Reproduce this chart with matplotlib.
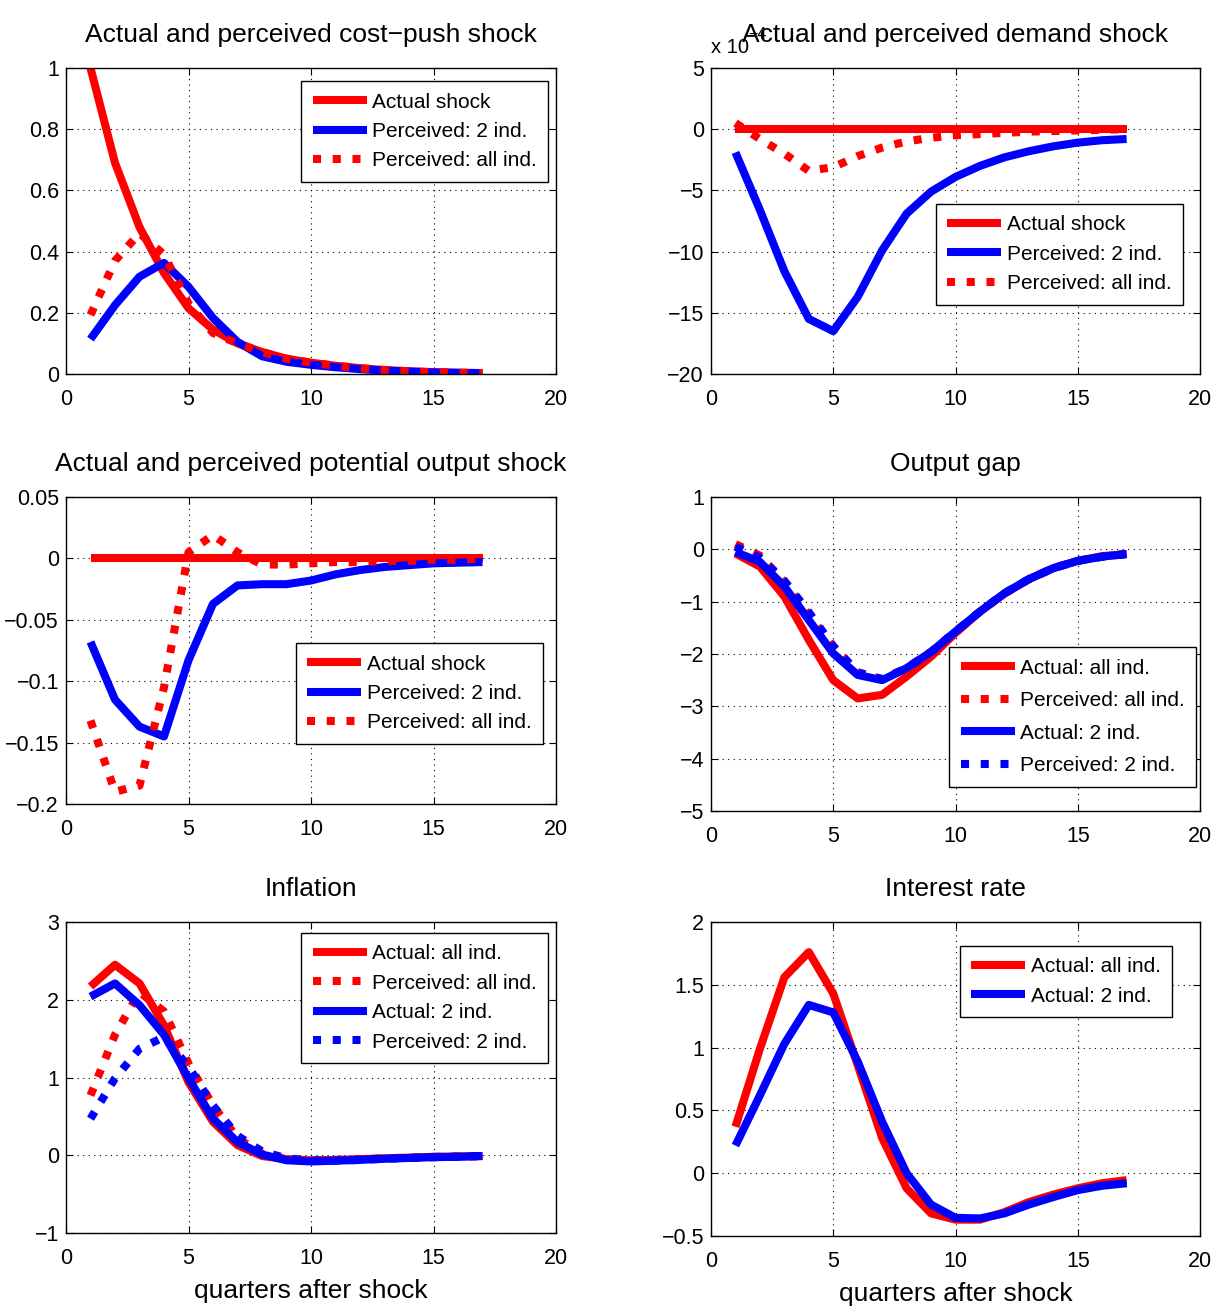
import matplotlib
matplotlib.use('Agg')
import matplotlib.pyplot as plt
import numpy as np

plt.rcParams['font.family'] = ['Liberation Sans Narrow', 'Liberation Sans', 'DejaVu Sans']
plt.rcParams['lines.solid_capstyle'] = 'butt'

t = np.arange(1, 18)

# cost-push shock
cp_actual = [1.0, 0.69, 0.48, 0.33, 0.215, 0.145, 0.10, 0.072, 0.05, 0.037, 0.027, 0.019, 0.013, 0.009, 0.006, 0.004, 0.003]
cp_perc2 = [0.114, 0.225, 0.318, 0.363, 0.285, 0.183, 0.105, 0.058, 0.04, 0.03, 0.022, 0.016, 0.011, 0.008, 0.005, 0.004, 0.003]
cp_percall = [0.193, 0.37, 0.46, 0.39, 0.23, 0.134, 0.10, 0.072, 0.05, 0.037, 0.027, 0.019, 0.013, 0.009, 0.006, 0.004, 0.003]

# demand shock (x 1e-4)
dm_actual = [0.0] * 17
dm_perc2 = [-1.9, -6.6, -11.6, -15.5, -16.5, -13.7, -9.9, -6.9, -5.1, -3.9, -3.0, -2.3, -1.8, -1.4, -1.1, -0.9, -0.8]
dm_percall = [0.5, -0.8, -2.0, -3.4, -3.1, -2.2, -1.5, -1.0, -0.7, -0.5, -0.4, -0.3, -0.2, -0.15, -0.1, -0.05, 0.0]

# potential output shock
po_actual = [0.0] * 17
po_perc2 = [-0.068, -0.115, -0.137, -0.145, -0.083, -0.037, -0.022, -0.021, -0.021, -0.018, -0.013, -0.0095, -0.007, -0.0055, -0.004, -0.0035, -0.003]
po_percall = [-0.132, -0.19, -0.185, -0.105, 0.005, 0.019, 0.005, -0.005, -0.005, -0.004, -0.003, -0.003, -0.002, -0.002, -0.001, -0.001, 0.0]

# output gap
og_act_all = [-0.08, -0.33, -0.9, -1.73, -2.5, -2.85, -2.78, -2.43, -2.05, -1.6, -1.19, -0.85, -0.57, -0.36, -0.22, -0.13, -0.09]
og_perc_all = [0.1, -0.12, -0.62, -1.25, -1.85, -2.35, -2.48, -2.27, -1.96, -1.57, -1.19, -0.84, -0.57, -0.36, -0.22, -0.14, -0.09]
og_act_2 = [-0.05, -0.24, -0.71, -1.35, -1.99, -2.4, -2.5, -2.27, -1.96, -1.57, -1.19, -0.84, -0.57, -0.36, -0.22, -0.14, -0.09]
og_perc_2 = [0.05, -0.16, -0.6, -1.2, -1.85, -2.35, -2.48, -2.27, -1.96, -1.57, -1.19, -0.84, -0.57, -0.36, -0.22, -0.14, -0.09]

# inflation
in_act_all = [2.17, 2.45, 2.21, 1.67, 0.94, 0.43, 0.13, -0.01, -0.05, -0.065, -0.06, -0.05, -0.04, -0.03, -0.02, -0.015, -0.01]
in_perc_all = [0.77, 1.55, 2.1, 1.85, 1.18, 0.64, 0.22, 0.02, -0.05, -0.065, -0.06, -0.05, -0.04, -0.03, -0.02, -0.015, -0.01]
in_act_2 = [2.04, 2.21, 1.93, 1.55, 0.99, 0.47, 0.17, 0.01, -0.065, -0.08, -0.07, -0.06, -0.045, -0.035, -0.025, -0.02, -0.01]
in_perc_2 = [0.47, 0.99, 1.37, 1.52, 1.14, 0.64, 0.25, 0.05, -0.04, -0.07, -0.07, -0.06, -0.045, -0.035, -0.025, -0.02, -0.01]

# interest rate
ir_act_all = [0.37, 0.99, 1.56, 1.76, 1.43, 0.86, 0.28, -0.12, -0.32, -0.37, -0.37, -0.31, -0.23, -0.17, -0.12, -0.08, -0.055]
ir_act_2 = [0.22, 0.62, 1.03, 1.34, 1.28, 0.89, 0.41, 0.0, -0.25, -0.355, -0.36, -0.32, -0.25, -0.19, -0.135, -0.10, -0.08]

LW = 5.8
DOT = (0, (1.0, 1.45))
TFS = 19
KFS = 15.5
LFS = 15

fig = plt.figure(figsize=(12.14, 13.11), dpi=100)

def make_ax(px_left, px_top, px_right, px_bottom):
    W, H = 1214.0, 1311.0
    ax = fig.add_axes([px_left / W, 1 - px_bottom / H, (px_right - px_left) / W, (px_bottom - px_top) / H])
    ax.grid(True, linestyle=(0, (1, 4)), color='black', linewidth=0.8)
    ax.tick_params(direction='in', top=True, right=True, labelsize=KFS, length=5)
    ax.tick_params(axis='x', pad=11)
    ax.tick_params(axis='y', pad=5)
    ax.set_xlim(0, 20)
    ax.set_xticks([0, 5, 10, 15, 20])
    for s in ax.spines.values():
        s.set_linewidth(1.0)
    return ax

def leg(ax, x, y, spacing=0.5):
    l = ax.legend(loc='upper right', bbox_to_anchor=(x, y), fontsize=LFS, fancybox=False,
                  edgecolor='black', framealpha=1, handlelength=2.6, handletextpad=0.25,
                  labelspacing=spacing, borderpad=0.55, borderaxespad=0)
    l.get_frame().set_linewidth(1.0)

# top-left
ax = make_ax(66, 68, 556, 374)
ax.plot(t, cp_actual, color='red', lw=LW, label='Actual shock')
ax.plot(t, cp_perc2, color='blue', lw=LW, label='Perceived: 2 ind.')
ax.plot(t, cp_percall, color='red', lw=LW, ls=DOT, label='Perceived: all ind.')
ax.set_ylim(0, 1)
ax.set_yticks([0, 0.2, 0.4, 0.6, 0.8, 1])
ax.set_yticklabels(['0', '0.2', '0.4', '0.6', '0.8', '1'])
ax.set_title('Actual and perceived cost\u2212push shock', fontsize=TFS, pad=19)
leg(ax, 0.984, 0.957)

# top-right
ax = make_ax(711, 68, 1200, 374)
ax.plot(t, dm_actual, color='red', lw=LW, label='Actual shock')
ax.plot(t, dm_perc2, color='blue', lw=LW, label='Perceived: 2 ind.')
ax.plot(t, dm_percall, color='red', lw=LW, ls=DOT, label='Perceived: all ind.')
ax.set_ylim(-20, 5)
ax.set_yticks([-20, -15, -10, -5, 0, 5])
ax.set_title('Actual and perceived demand shock', fontsize=TFS, pad=19)
ax.text(0.0, 1.035, 'x 10', transform=ax.transAxes, fontsize=KFS - 1, ha='left', va='bottom')
ax.text(0.077, 1.085, '\u22124', transform=ax.transAxes, fontsize=KFS - 4, ha='left', va='bottom')
leg(ax, 0.965, 0.556)

# middle-left
ax = make_ax(66, 497, 556, 804)
ax.plot(t, po_actual, color='red', lw=LW, label='Actual shock')
ax.plot(t, po_perc2, color='blue', lw=LW, label='Perceived: 2 ind.')
ax.plot(t, po_percall, color='red', lw=LW, ls=DOT, label='Perceived: all ind.')
ax.set_ylim(-0.2, 0.05)
ax.set_yticks([-0.2, -0.15, -0.1, -0.05, 0, 0.05])
ax.set_yticklabels(['\u22120.2', '\u22120.15', '\u22120.1', '\u22120.05', '0', '0.05'])
ax.set_title('Actual and perceived potential output shock', fontsize=TFS, pad=19)
leg(ax, 0.973, 0.524)

# middle-right
ax = make_ax(711, 497, 1200, 811)
ax.plot(t, og_act_all, color='red', lw=LW, label='Actual: all ind.')
ax.plot(t, og_perc_all, color='red', lw=LW, ls=DOT, label='Perceived: all ind.')
ax.plot(t, og_act_2, color='blue', lw=LW, label='Actual: 2 ind.')
ax.plot(t, og_perc_2, color='blue', lw=LW, ls=DOT, label='Perceived: 2 ind.')
ax.set_ylim(-5, 1)
ax.set_yticks([-5, -4, -3, -2, -1, 0, 1])
ax.set_title('Output gap', fontsize=TFS, pad=19)
leg(ax, 0.992, 0.522, spacing=0.65)

# bottom-left
ax = make_ax(66, 922, 556, 1233)
ax.plot(t, in_act_all, color='red', lw=LW, label='Actual: all ind.')
ax.plot(t, in_perc_all, color='red', lw=LW, ls=DOT, label='Perceived: all ind.')
ax.plot(t, in_act_2, color='blue', lw=LW, label='Actual: 2 ind.')
ax.plot(t, in_perc_2, color='blue', lw=LW, ls=DOT, label='Perceived: 2 ind.')
ax.set_ylim(-1, 3)
ax.set_yticks([-1, 0, 1, 2, 3])
ax.set_title('Inflation', fontsize=TFS, pad=19)
ax.set_xlabel('quarters after shock', fontsize=TFS, labelpad=7)
leg(ax, 0.984, 0.965)

# bottom-right
ax = make_ax(711, 922, 1200, 1236)
ax.plot(t, ir_act_all, color='red', lw=LW, label='Actual: all ind.')
ax.plot(t, ir_act_2, color='blue', lw=LW, label='Actual: 2 ind.')
ax.set_ylim(-0.5, 2)
ax.set_yticks([-0.5, 0, 0.5, 1, 1.5, 2])
ax.set_yticklabels(['\u22120.5', '0', '0.5', '1', '1.5', '2'])
ax.set_title('Interest rate', fontsize=TFS, pad=19)
ax.set_xlabel('quarters after shock', fontsize=TFS, labelpad=7)
leg(ax, 0.943, 0.924)

fig.savefig('out.png', dpi=100)
